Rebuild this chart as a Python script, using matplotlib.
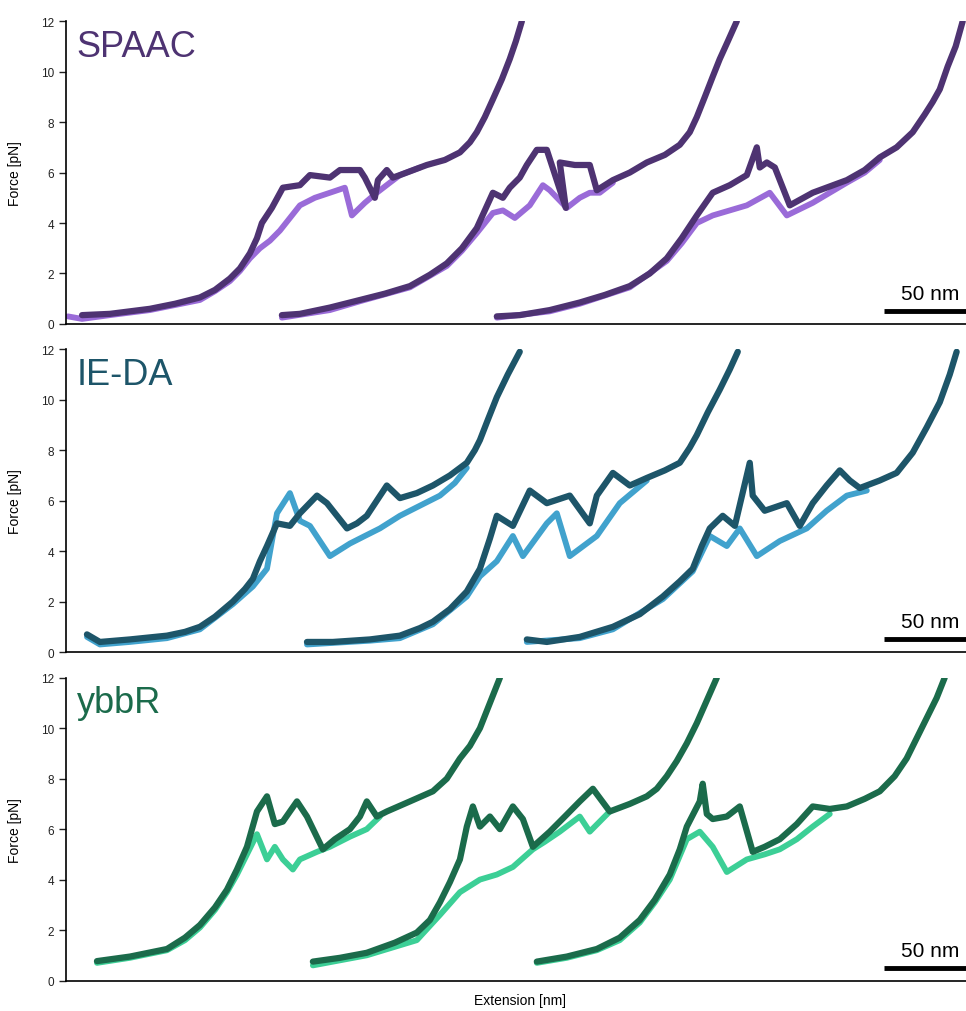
import matplotlib
matplotlib.use("Agg")
import matplotlib.pyplot as plt

plt.rcParams['font.family'] = ['Liberation Sans', 'DejaVu Sans']

# panel names and colours (dark trace, light trace)
panel_names = ["SPAAC", "IE-DA", "ybbR"]
dark_colors = ["#4e3372", "#1d5569", "#1b6b4b"]
light_colors = ["#9a6bd8", "#41a2cd", "#3ccf96"]

# ---- SPAAC ----  (extension in nm, force in pN)
spaac_dark_x = [
    [9.8, 26.8, 39.0, 51.2, 66.5, 81.7, 90.9, 100.0, 106.1, 112.2, 116.5, 119.5, 125.6, 132.3,
     142.7, 148.8, 161.0, 167.1, 179.3, 182.3, 188.4, 190.3, 195.7, 199.4, 203.7, 220.1, 231.1,
     240.3, 246.4, 250.6, 255.5, 260.4, 265.9, 270.7, 274.4, 278.1],
    [131.7, 142.7, 161.0, 179.3, 194.5, 209.8, 222.0, 232.3, 241.5, 250.6, 255.5, 260.4, 266.5,
     270.7, 276.8, 281.1, 287.2, 293.3, 304.9, 301.2, 310.4, 319.5, 323.8, 333.6, 343.9, 354.3,
     365.3, 374.4, 380.5, 384.8, 389.7, 394.5, 398.8, 403.7, 409.2],
    [262.8, 276.8, 295.1, 313.4, 328.7, 343.9, 356.1, 366.5, 375.6, 384.8, 394.5, 404.9, 415.3,
     421.4, 423.2, 427.5, 432.4, 441.5, 455.5, 465.9, 476.3, 487.2, 496.4, 506.7, 516.5, 523.8,
     528.7, 533.0, 537.8, 542.7, 547.0],
]
spaac_dark_f = [
    [0.35, 0.4, 0.5, 0.6, 0.8, 1.05, 1.35, 1.8, 2.2, 2.8, 3.4, 4.0, 4.6, 5.4,
     5.5, 5.9, 5.8, 6.1, 6.1, 5.8, 5.0, 5.7, 6.1, 5.8, 5.9, 6.3, 6.5,
     6.8, 7.2, 7.6, 8.2, 8.9, 9.7, 10.5, 11.2, 12.0],
    [0.35, 0.4, 0.65, 0.95, 1.2, 1.5, 1.95, 2.4, 3.0, 3.8, 4.5, 5.2, 5.0,
     5.4, 5.8, 6.3, 6.9, 6.9, 4.6, 6.4, 6.3, 6.3, 5.3, 5.7, 6.0, 6.4,
     6.7, 7.1, 7.6, 8.2, 9.0, 9.8, 10.5, 11.2, 12.0],
    [0.3, 0.35, 0.55, 0.85, 1.15, 1.5, 2.0, 2.6, 3.4, 4.3, 5.2, 5.5, 5.9,
     7.0, 6.2, 6.4, 6.2, 4.7, 5.2, 5.45, 5.7, 6.1, 6.6, 7.0, 7.6, 8.3,
     8.8, 9.3, 10.2, 11.0, 12.0],
]
spaac_light_x = [
    [1.2, 9.8, 26.8, 39.0, 51.2, 66.5, 81.7, 90.9, 100.0, 106.1, 112.2, 118.3, 124.4, 130.5,
     136.6, 142.7, 151.8, 161.0, 170.1, 174.4, 182.3, 189.6, 197.6, 203.7, 215.9],
    [131.7, 161.0, 179.3, 209.8, 232.3, 241.5, 250.6, 260.4, 266.5, 273.8, 282.9, 290.9, 295.1,
     305.5, 313.4, 319.5, 325.6, 333.6],
    [262.8, 295.1, 313.4, 343.9, 366.5, 375.6, 384.8, 394.5, 404.9, 415.3, 429.3, 439.7, 455.5,
     465.9, 476.3, 487.2, 496.4],
]
spaac_light_f = [
    [0.3, 0.2, 0.35, 0.45, 0.55, 0.75, 0.95, 1.3, 1.7, 2.1, 2.6, 3.0, 3.3, 3.7,
     4.2, 4.7, 5.0, 5.2, 5.4, 4.3, 4.8, 5.2, 5.6, 5.9, 6.2],
    [0.25, 0.55, 0.9, 1.45, 2.3, 2.9, 3.6, 4.4, 4.5, 4.2, 4.7, 5.5, 5.3,
     4.6, 5.0, 5.2, 5.2, 5.6],
    [0.25, 0.5, 0.8, 1.45, 2.5, 3.2, 4.0, 4.3, 4.5, 4.7, 5.2, 4.3, 4.8,
     5.2, 5.6, 6.0, 6.5],
]

# ---- IE-DA ----
ieda_dark_x = [
    [12.8, 20.7, 39.0, 61.6, 72.6, 81.7, 90.9, 101.8, 109.2, 114.0, 118.3, 122.6, 128.7, 136.6,
     142.7, 153.1, 159.2, 171.4, 177.5, 183.5, 189.6, 195.7, 203.7, 214.0, 223.8, 234.2, 244.5,
     249.4, 252.5, 257.3, 262.8, 269.5, 276.8],
    [147.0, 162.8, 185.4, 203.7, 215.9, 223.8, 234.2, 244.5, 252.5, 258.6, 262.8, 272.6, 282.9,
     293.3, 307.3, 319.5, 323.8, 333.6, 343.9, 354.3, 365.3, 374.4, 380.5, 384.8, 391.5, 398.8,
     404.9, 409.8],
    [281.1, 293.3, 313.4, 333.6, 350.0, 364.1, 374.4, 382.3, 387.8, 392.7, 400.6, 408.0, 417.1,
     418.9, 426.2, 439.7, 447.6, 455.5, 464.0, 472.0, 478.1, 484.2, 496.4, 506.7, 516.5, 525.0,
     533.0, 539.1, 543.3],
]
ieda_dark_f = [
    [0.7, 0.4, 0.5, 0.65, 0.8, 1.0, 1.4, 2.0, 2.5, 2.9, 3.6, 4.2, 5.1, 5.0,
     5.5, 6.2, 5.9, 4.9, 5.1, 5.4, 6.0, 6.6, 6.1, 6.3, 6.6, 7.0, 7.5,
     8.0, 8.4, 9.2, 10.1, 11.0, 11.9],
    [0.4, 0.4, 0.5, 0.65, 0.95, 1.2, 1.7, 2.4, 3.3, 4.5, 5.4, 5.0, 6.4,
     5.9, 6.2, 5.1, 6.2, 7.1, 6.6, 6.9, 7.2, 7.5, 8.1, 8.6, 9.5, 10.4,
     11.2, 11.9],
    [0.5, 0.4, 0.6, 1.0, 1.5, 2.2, 2.8, 3.3, 4.2, 4.9, 5.4, 5.0, 7.5,
     6.2, 5.6, 5.9, 5.0, 5.9, 6.6, 7.2, 6.8, 6.5, 6.8, 7.1, 7.9, 8.9,
     9.9, 11.0, 11.9],
]
ieda_light_x = [
    [12.8, 20.7, 39.0, 61.6, 81.7, 101.8, 114.0, 122.6, 128.7, 136.6, 142.7, 148.8, 161.0,
     173.2, 182.3, 191.5, 203.7, 215.9, 228.1, 237.2, 244.5],
    [147.0, 185.4, 203.7, 223.8, 244.5, 252.5, 262.8, 272.6, 278.7, 293.3, 299.4, 307.3, 323.8,
     337.8, 354.3],
    [281.1, 313.4, 333.6, 364.1, 382.3, 392.7, 403.1, 411.0, 421.4, 435.4, 451.9, 464.0, 476.3,
     488.5],
]
ieda_light_f = [
    [0.6, 0.3, 0.4, 0.55, 0.9, 1.9, 2.6, 3.3, 5.5, 6.3, 5.2, 5.0, 3.8,
     4.3, 4.6, 4.9, 5.4, 5.8, 6.2, 6.7, 7.3],
    [0.3, 0.45, 0.55, 1.1, 2.2, 3.0, 3.6, 4.6, 3.8, 5.1, 5.5, 3.8, 4.6, 5.9, 6.8],
    [0.4, 0.55, 0.9, 2.1, 3.2, 4.6, 4.2, 4.9, 3.8, 4.4, 4.9, 5.6, 6.2, 6.4],
]

# ---- ybbR ----
ybbr_dark_x = [
    [18.9, 39.0, 61.6, 72.6, 81.7, 90.9, 98.2, 104.3, 110.4, 116.5, 122.6, 127.4, 132.3, 140.9,
     147.0, 156.7, 164.0, 173.2, 179.3, 183.5, 189.6, 195.7, 209.8, 223.8, 232.3, 240.3, 246.4,
     252.5, 258.6, 264.7],
    [150.6, 167.1, 183.5, 200.6, 214.0, 222.0, 228.1, 234.2, 240.3, 244.5, 248.2, 252.5, 258.6,
     264.7, 272.6, 278.7, 284.8, 295.1, 304.3, 313.4, 321.4, 331.7, 343.9, 354.3, 360.4, 366.5,
     372.6, 378.7, 384.8, 390.9, 397.0],
    [287.2, 305.5, 323.8, 337.8, 350.0, 359.2, 368.3, 374.4, 378.7, 386.6, 388.4, 390.9, 394.5,
     403.1, 411.0, 418.9, 426.2, 435.4, 445.8, 455.5, 465.9, 476.3, 487.2, 496.4, 505.5, 512.8,
     518.9, 525.0, 531.1, 536.0],
]
ybbr_dark_f = [
    [0.77, 0.95, 1.25, 1.7, 2.2, 2.9, 3.6, 4.4, 5.3, 6.7, 7.3, 6.2, 6.3, 7.1,
     6.5, 5.2, 5.6, 6.0, 6.5, 7.1, 6.5, 6.7, 7.1, 7.5, 8.0, 8.8, 9.3,
     10.0, 11.0, 12.0],
    [0.75, 0.9, 1.1, 1.5, 1.9, 2.4, 3.1, 3.9, 4.8, 6.1, 6.9, 6.1, 6.5,
     6.0, 6.9, 6.4, 5.3, 5.9, 6.5, 7.1, 7.6, 6.7, 7.0, 7.3, 7.6, 8.1,
     8.7, 9.4, 10.2, 11.1, 12.0],
    [0.75, 0.95, 1.25, 1.7, 2.4, 3.2, 4.2, 5.2, 6.1, 7.1, 7.8, 6.6, 6.4,
     6.5, 6.9, 5.1, 5.3, 5.6, 6.2, 6.9, 6.8, 6.9, 7.2, 7.5, 8.1, 8.8,
     9.6, 10.4, 11.2, 12.0],
]
ybbr_light_x = [
    [18.9, 39.0, 61.6, 72.6, 81.7, 90.9, 98.2, 104.3, 110.4, 116.5, 122.6, 127.4, 132.3, 138.4,
     142.7, 153.1, 161.0, 173.2, 183.5, 191.5],
    [150.6, 183.5, 214.0, 228.1, 240.3, 252.5, 262.8, 272.6, 284.8, 292.1, 301.2, 313.4, 319.5,
     331.7],
    [287.2, 305.5, 323.8, 337.8, 350.0, 359.2, 368.3, 378.7, 386.6, 394.5, 403.1, 415.3, 426.2,
     435.4, 445.8, 455.5, 465.9],
]
ybbr_light_f = [
    [0.7, 0.9, 1.2, 1.6, 2.1, 2.8, 3.5, 4.2, 5.0, 5.8, 4.8, 5.3, 4.8, 4.4,
     4.8, 5.1, 5.3, 5.7, 6.0, 6.5],
    [0.6, 1.0, 1.6, 2.6, 3.5, 4.0, 4.2, 4.5, 5.2, 5.5, 5.9, 6.5, 5.9, 6.7],
    [0.7, 0.9, 1.2, 1.6, 2.3, 3.1, 4.0, 5.6, 5.9, 5.3, 4.3, 4.8, 5.0,
     5.2, 5.6, 6.1, 6.6],
]

dark_x = [spaac_dark_x, ieda_dark_x, ybbr_dark_x]
dark_f = [spaac_dark_f, ieda_dark_f, ybbr_dark_f]
light_x = [spaac_light_x, ieda_light_x, ybbr_light_x]
light_f = [spaac_light_f, ieda_light_f, ybbr_light_f]

yticks = [0, 2, 4, 6, 8, 10, 12]
scale_bar_nm = 50

fig = plt.figure(figsize=(9.66, 10.12), dpi=100)
bottoms = [0.6789, 0.3547, 0.0301]
for i in range(3):
    ax = fig.add_axes([0.0683, bottoms[i], 0.9317, 0.2992])
    for xs, fs in zip(light_x[i], light_f[i]):
        ax.plot(xs, fs, color=light_colors[i], lw=4.2, solid_joinstyle='round',
                solid_capstyle='round')
    for xs, fs in zip(dark_x[i], dark_f[i]):
        ax.plot(xs, fs, color=dark_colors[i], lw=4.5, solid_joinstyle='round',
                solid_capstyle='round')

    ax.set_xlim(0, 549)
    ax.set_ylim(0, 12)
    ax.set_yticks(yticks)
    ax.set_xticks([])
    ax.tick_params(axis='y', labelsize=8.5, length=5, width=1, colors='#222222')
    for s in ['top', 'right']:
        ax.spines[s].set_visible(False)
    ax.spines['left'].set_linewidth(1.2)
    ax.spines['bottom'].set_linewidth(1.2)
    ax.set_ylabel("Force [pN]", fontsize=10)
    ax.yaxis.set_label_coords(-0.049, 0.5)

    ax.text(0.012, 0.975, panel_names[i], transform=ax.transAxes, fontsize=26,
            color=dark_colors[i], va='top', ha='left')

    # 50 nm scale bar
    x0 = 549 - scale_bar_nm
    ax.plot([x0, 549], [0.5, 0.5], color='black', lw=3.5, solid_capstyle='butt',
            clip_on=False)
    ax.text(x0 + scale_bar_nm / 2 + 3, 1.2, "50 nm", fontsize=15, ha='center',
            va='center')

fig.text(0.538, 0.011, "Extension [nm]", fontsize=10, ha='center', va='center')

fig.savefig("out.png", dpi=100)
